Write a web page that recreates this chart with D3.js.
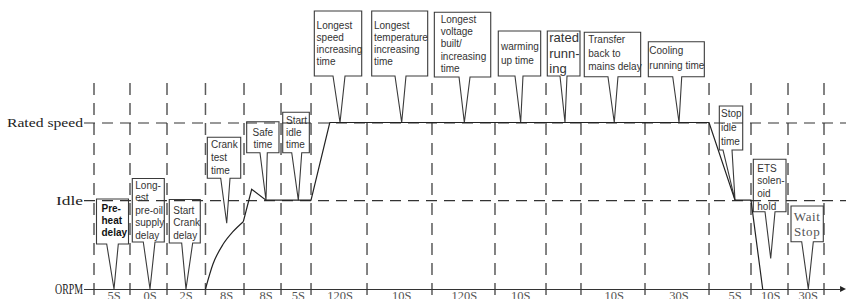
<!DOCTYPE html>
<html>
<head>
<meta charset="utf-8">
<script src="https://cdn.jsdelivr.net/npm/d3@7"></script>
<style>
  html, body { margin: 0; padding: 0; background: #fff; }
  svg { display: block; }
</style>
</head>
<body>
<div id="js_chart"></div>
<script>
// ******************************************************
// Data (schematic time axis in units 0..100, speed in rpm)
// ******************************************************
const phaseBounds = [0, 4.93, 10, 15.27, 20.55, 25.62, 29.73, 37.4, 46.3, 54.93, 61.92, 66.71, 75.48, 84.25, 90, 95.07, 100];
const durations = ["5S", "0S", "2S", "8S", "8S", "5S", "120S", "10S", "120S", "10S", "", "10S", "30S", "5S", "10S", "30S"];

const notes = [
    ["Pre-", "heat", "delay"],
    ["Long-", "est", "pre-oil", "supply", "delay"],
    ["Start", "Crank", "delay"],
    ["Crank", "test", "time"],
    ["Safe", "time"],
    ["Start", "idle", "time"],
    ["Longest", "speed", "increasing", "time"],
    ["Longest", "temperature", "increasing", "time"],
    ["Longest", "voltage", "built/", "increasing", "time"],
    ["warming", "up time"],
    ["rated", "runn-", "ing"],
    ["Transfer", "back to", "mains delay"],
    ["Cooling", "running time"],
    ["Stop", "idle", "time"],
    ["ETS", "solen-", "oid", "hold"],
    ["Wait", "Stop"]
];
const noteTime = [2.74, 7.67, 12.6, 18.18, 23.56, 27.99, 33.7, 42.15, 50.73, 58.45, 64.52, 71.27, 80.14, 87.81, 92.7, 97.85];
const noteSpeed = [0, 0, 0, 592, 800, 800, 1500, 1500, 1500, 1500, 1500, 1500, 1500, 800, 276, 0];

const speedLevels = [0, 800, 1500];
const speedNames = ["ORPM", "Idle", "Rated speed"];

// cranking (curved part) and the rest of the speed trace
const crankTime = [15.27, 16.3, 17.7, 19.0, 20.45];
const crankSpeed = [0, 225, 405, 514, 606];
const runTime = [20.45, 21.6, 23.56, 29.73, 32.3, 84.25, 87.81, 90.0, 91.6];
const runSpeed = [606, 898, 800, 800, 1500, 1500, 800, 800, 0];

// ******************************************************
// Callout layout (px): box offset from tip, wedge, text
// ******************************************************
const calloutLayout = [
    {dx: -17.5, w: 32,   top: 199,   h: 45,   wl: -7.3, wr: 4.3, pad: 5,   b1: 211.5, lh: 12,   bold: true},
    {dx: -17.7, w: 32,   top: 178.5, h: 63.5, wl: -6.7, wr: 5,   pad: 3,   b1: 188.5, lh: 12.5},
    {dx: -16.7, w: 31,   top: 199.5, h: 43.5, wl: -4.3, wr: 6.7, pad: 4,   b1: 213.5, lh: 12.5},
    {dx: -19.4, w: 33.4, top: 137.3, h: 41,   wl: -6,   wr: 3.3, pad: 3.7, b1: 147.5, lh: 13},
    {dx: -19.3, w: 32.3, top: 121.7, h: 31,   wl: -6,   wr: 1.3, center: true, b1: 135.5, lh: 12},
    {dx: -15.6, w: 26.6, top: 112.3, h: 40.4, wl: -6.6, wr: 3.4, pad: 3.3, b1: 123.5, lh: 12},
    {dx: -25.7, w: 47.4, top: 11,    h: 65,   wl: -7,   wr: 5,   pad: 2.3, b1: 28.5,  lh: 12.3},
    {dx: -30,   w: 56,   top: 11,    h: 65,   wl: -6.7, wr: 4.3, pad: 2.3, b1: 28.5,  lh: 12.3},
    {dx: -30,   w: 56.4, top: 12.3,  h: 64.7, wl: -5.3, wr: 5.7, pad: 6.3, b1: 22.8,  lh: 12.25},
    {dx: -22.4, w: 42.4, top: 31,    h: 45,   wl: -5.7, wr: 2.3, pad: 2.7, b1: 50.2,  lh: 13.3},
    {dx: -17.7, w: 32.7, top: 31,    h: 45,   wl: -5,   wr: 2,   pad: 2,   b1: 42,    lh: 15.5, fs: 13},
    {dx: -30,   w: 56.4, top: 32.3,  h: 44.4, wl: -6.3, wr: 3.7, pad: 4,   b1: 42.8,  lh: 13.7},
    {dx: -30.7, w: 56,   top: 41.7,  h: 35,   wl: -6.3, wr: 2.7, pad: 1,   b1: 54.2,  lh: 14.3},
    {dx: -15.7, w: 23.4, top: 106,   h: 44,   wl: -12,  wr: -3,  pad: 1.7, b1: 116.8, lh: 14},
    {dx: -17.4, w: 32.7, top: 159.3, h: 52.4, wl: -5.7, wr: 4.3, pad: 4,   b1: 171.8, lh: 12.6},
    {dx: -17.3, w: 32.3, top: 206,   h: 35.7, wl: -6.6, wr: 5,   center: true, b1: 220.5, lh: 15.7, fs: 13, serif: true}
];

// ******************************************************
// Settings
// ******************************************************
const width = 846, height = 299;

const x = d3.scaleLinear().domain([0, 100]).range([94, 824]);
const y = d3.scaleLinear().domain([0, 1500]).range([289, 122.5]);

const svg = d3.select("#js_chart")
    .append("svg")
    .attr("width", width)
    .attr("height", height);

// vertical phase separators
svg.append("g")
    .selectAll("line")
    .data(phaseBounds)
    .enter().append("line")
        .attr("x1", d => x(d)).attr("x2", d => x(d))
        .attr("y1", 83).attr("y2", height)
        .attr("stroke", "#5a5a5a")
        .attr("stroke-width", 1.5)
        .attr("stroke-dasharray", "12,8");

// duration labels under the axis
svg.append("g")
    .selectAll("text")
    .data(durations)
    .enter().append("text")
        .attr("x", (d, i) => x(noteTime[i]))
        .attr("y", 300)
        .attr("text-anchor", "middle")
        .attr("font-family", "'Liberation Serif', serif")
        .attr("font-size", 12.5)
        .attr("fill", "#555")
        .text(d => d);

// callouts
const callouts = svg.append("g")
    .selectAll("g")
    .data(notes)
    .enter().append("g");

callouts.append("path")
    .attr("d", function (d, i) {
        const L = calloutLayout[i];
        const tx = x(noteTime[i]), ty = y(noteSpeed[i]);
        const left = tx + L.dx, right = left + L.w, bottom = L.top + L.h;
        return "M" + left + "," + L.top + "H" + right + "V" + bottom +
            "H" + (tx + L.wr) + "L" + tx + "," + ty + "L" + (tx + L.wl) + "," + bottom +
            "H" + left + "Z";
    })
    .attr("fill", "#fff")
    .attr("stroke", "#3a3a3a")
    .attr("stroke-width", 1.1)
    .attr("stroke-linejoin", "miter");

callouts.each(function (d, i) {
    const L = calloutLayout[i];
    const tx = x(noteTime[i]);
    const left = tx + L.dx;
    const t = d3.select(this).append("text")
        .attr("font-family", L.serif ? "'Liberation Serif', serif" : "'Liberation Sans', Arial, sans-serif")
        .attr("font-size", L.fs || 10)
        .attr("font-weight", L.bold ? "bold" : "normal")
        .attr("fill", L.bold ? "#111" : (L.serif ? "#555" : "#333"))
        .attr("letter-spacing", L.serif ? 0.6 : 0)
        .attr("text-anchor", L.center ? "middle" : "start");
    d.forEach(function (line, k) {
        t.append("tspan")
            .attr("x", L.center ? left + L.w / 2 : left + L.pad)
            .attr("y", L.b1 + k * L.lh)
            .text(line);
    });
});

// speed levels as a left axis whose ticks run across the chart
const yAxis = svg.append("g")
    .attr("transform", "translate(84,0)")
    .call(d3.axisLeft(y)
        .tickValues(speedLevels)
        .tickFormat((d, i) => speedNames[i])
        .tickSize(-(width - 84))
        .tickPadding(1));

yAxis.select(".domain").remove();
yAxis.selectAll(".tick line")
    .attr("stroke", "#333")
    .attr("stroke-width", 1.2)
    .attr("stroke-dasharray", d => d === 0 ? null : "11,7")
    .attr("x2", d => d === 0 ? x(102.2) - 84 : width - 84);
yAxis.selectAll(".tick text")
    .attr("font-family", "'Liberation Serif', serif")
    .attr("font-size", (d, i) => [14, 13, 13][i])
    .attr("fill", "#222")
    .attr("textLength", (d, i) => [28, 27, 76][i])
    .attr("lengthAdjust", "spacingAndGlyphs");

// arrow head at the end of the time axis
svg.append("path")
    .attr("d", "M" + x(102.2) + "," + (y(0) - 3) + "L" + width + "," + y(0) + "L" + x(102.2) + "," + (y(0) + 3) + "Z")
    .attr("fill", "#222");

// speed trace
svg.append("path")
    .datum(crankTime.map((t, i) => [t, crankSpeed[i]]))
    .attr("fill", "none")
    .attr("stroke", "#222")
    .attr("stroke-width", 1.2)
    .attr("d", d3.line().x(d => x(d[0])).y(d => y(d[1])).curve(d3.curveMonotoneX));

svg.append("path")
    .datum(runTime.map((t, i) => [t, runSpeed[i]]))
    .attr("fill", "none")
    .attr("stroke", "#222")
    .attr("stroke-width", 1.2)
    .attr("d", d3.line().x(d => x(d[0])).y(d => y(d[1])));
</script>
</body>
</html>
